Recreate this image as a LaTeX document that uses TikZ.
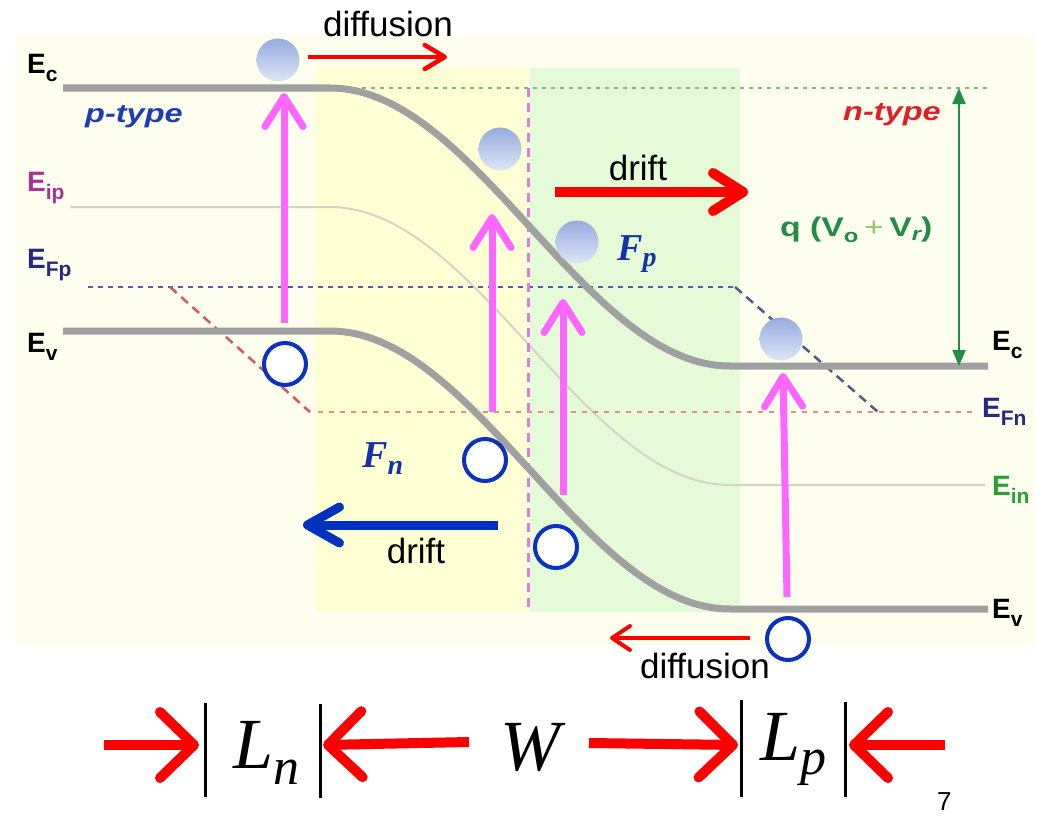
\documentclass[tikz,border=0pt]{standalone}
\usepackage{fontspec}
\setmainfont{Liberation Sans}
\newfontfamily\timesf{Liberation Serif}
\usetikzlibrary{arrows.meta}
\definecolor{bandgray}{RGB}{160,160,160}
\definecolor{eigray}{RGB}{212,212,198}
\definecolor{panel}{RGB}{254,254,238}
\definecolor{ylw}{RGB}{255,255,212}
\definecolor{grn}{RGB}{229,250,214}
\definecolor{mag}{RGB}{255,102,255}
\definecolor{vdash}{RGB}{226,120,226}
\definecolor{gdot}{RGB}{120,190,120}
\definecolor{bdash}{RGB}{90,90,170}
\definecolor{rdot}{RGB}{232,140,130}
\definecolor{rdiag}{RGB}{210,90,95}
\definecolor{bdiag}{RGB}{80,90,135}
\definecolor{qgreen}{RGB}{35,140,70}
\definecolor{plusgreen}{RGB}{150,200,110}
\definecolor{holeblue}{RGB}{10,50,190}
\definecolor{eltop}{RGB}{150,172,222}
\definecolor{elbot}{RGB}{222,230,246}
\definecolor{fblue}{RGB}{20,50,170}
\definecolor{driftblue}{RGB}{0,50,190}
\definecolor{eip}{RGB}{170,50,150}
\definecolor{efp}{RGB}{40,40,130}
\definecolor{ein}{RGB}{40,160,50}
\definecolor{ptype}{RGB}{30,60,180}
\definecolor{ntype}{RGB}{225,30,40}
\definecolor{arrred}{RGB}{255,0,0}
\newcommand\Elab[1]{\fontsize{28}{28}\selectfont\bfseries E\raisebox{-8pt}{\fontsize{21}{21}\selectfont #1}}
\tikzset{
  band/.style={line width=7pt, bandgray},
  lvl/.style={line width=2.5pt},
  magarrow/.style={line width=7pt, mag, -{Straight Barb[length=30pt,width=38pt,round]}},
  elec/.style={circle, minimum size=43pt, inner sep=0pt, top color=eltop, bottom color=elbot, draw=none},
  hole/.style={circle, minimum size=42pt, inner sep=0pt, draw=holeblue, line width=4pt, fill=white},
  txt/.style={inner sep=0pt, anchor=base},
  lbl/.style={inner sep=0pt, anchor=base west},
  bigred/.style={line width=10pt, arrred, -{Straight Barb[length=34pt,width=66pt,round]}},
  bar/.style={line width=3pt, black}
}
\begin{document}
\begin{tikzpicture}[x=1pt,y=-1pt]
\useasboundingbox (0,0) rectangle (1039,816);
\fill[white] (0,0) rectangle (1039,816);
% background regions
\fill[panel] (15,35) rectangle (1035,645);
\fill[ylw] (315,68) rectangle (528,612);
\fill[grn] (530,68) rectangle (740,612);
% intrinsic level
\draw[eigray, line width=2pt] (70,207) -- (330,207) -- plot[domain=330:730,samples=80] (\x,{346-139*cos(0.45*(\x-330))}) -- (985,485);
% dashed levels
\coordinate (g1) at (92,88);   \coordinate (g2) at (990,88);
\coordinate (fp1) at (88,287); \coordinate (fp2) at (735,287); \coordinate (fp3) at (878,412);
\coordinate (fn1) at (318,412); \coordinate (fn2) at (975,412);
\coordinate (rd1) at (170,287); \coordinate (rd2) at (310,412);
\coordinate (jt) at (528,88); \coordinate (jb) at (528,612);
\draw[gdot, lvl, dash pattern=on 4pt off 5pt] (g1) -- (g2);
\draw[bdash, lvl, dash pattern=on 5pt off 5pt] (fp1) -- (fp2);
\draw[bdiag, lvl, dash pattern=on 9pt off 6pt] (fp2) -- (fp3);
\draw[rdot, lvl, dash pattern=on 5pt off 6pt] (fn1) -- (fn2);
\draw[rdiag, lvl, dash pattern=on 9pt off 6pt] (rd1) -- (rd2);
\draw[vdash, line width=3pt, dash pattern=on 9pt off 6pt] (jt) -- (jb);
% bands
\draw[band] (63,88) -- (330,88) -- plot[domain=330:730,samples=80] (\x,{227-139*cos(0.45*(\x-330))}) -- (988,366);
\draw[band] (63,331) -- (330,331) -- plot[domain=330:730,samples=80] (\x,{470-139*cos(0.45*(\x-330))}) -- (988,609);
% potential arrow
\coordinate (qt) at (959,88); \coordinate (qb) at (959,366);
\draw[qgreen, line width=2pt, {Triangle[length=16pt,width=13pt]}-{Triangle[length=16pt,width=13pt]}] (qt) -- (qb);
% magenta excitation arrows
\coordinate (m1a) at (284,323); \coordinate (m1b) at (284,93);
\coordinate (m2a) at (492,412); \coordinate (m2b) at (492,214);
\coordinate (m3a) at (563,495); \coordinate (m3b) at (563,299);
\coordinate (m4a) at (787,597); \coordinate (m4b) at (783,373);
\draw[magarrow] (m1a) -- (m1b);
\draw[magarrow] (m2a) -- (m2b);
\draw[magarrow] (m3a) -- (m3b);
\draw[magarrow] (m4a) -- (m4b);
% carriers
\node[elec] (e1) at (278,60) {};
\node[elec] (e2) at (500,149) {};
\node[elec] (e3) at (577,242) {};
\node[elec] (e4) at (781,339) {};
\node[hole] (h1) at (285,364) {};
\node[hole] (h2) at (485,460) {};
\node[hole] (h3) at (556,547) {};
\node[hole] (h4) at (788,639) {};
% drift / diffusion arrows
\coordinate (d1a) at (308,57); \coordinate (d1b) at (447,57);
\coordinate (r1a) at (555,192); \coordinate (r1b) at (748,192);
\coordinate (b1a) at (498,525); \coordinate (b1b) at (303,525);
\coordinate (d2a) at (750,638); \coordinate (d2b) at (610,638);
\draw[arrred, line width=4.5pt, -{Straight Barb[length=20pt,width=24pt,round]}] (d1a) -- (d1b);
\draw[arrred, line width=10pt, -{Straight Barb[length=30pt,width=38pt,round]}] (r1a) -- (r1b);
\draw[driftblue, line width=9pt, -{Straight Barb[length=32pt,width=36pt,round]}] (b1a) -- (b1b);
\draw[arrred, line width=4pt, -{Straight Barb[length=18pt,width=24pt,round]}] (d2a) -- (d2b);
\node[txt] (tdiff1) at (388,37) {\fontsize{35}{35}\selectfont diffusion};
\node[txt] (tdrift1) at (638,180) {\fontsize{35}{35}\selectfont drift};
\node[txt] (tdrift2) at (416,563) {\fontsize{35}{35}\selectfont drift};
\node[txt] (tdiff2) at (705,678) {\fontsize{35}{35}\selectfont diffusion};
% force labels
\node[lbl, fblue] (fp) at (617,260) {\fontsize{38}{38}\timesf\bfseries\itshape F\raisebox{-6pt}{\fontsize{28}{28}\selectfont p}};
\node[lbl, fblue] (fn) at (362,467) {\fontsize{38}{38}\timesf\bfseries\itshape F\raisebox{-7pt}{\fontsize{28}{28}\selectfont n}};
% level labels
\node[lbl] (lec) at (27,74) {\Elab{c}};
\node[lbl, eip] (leip) at (27,191) {\Elab{ip}};
\node[lbl, efp] (lefp) at (27,268) {\Elab{Fp}};
\node[lbl] (lev) at (27,352) {\Elab{v}};
\node[lbl] (rec) at (992,350) {\Elab{c}};
\node[lbl, efp] (refn) at (982,417) {\Elab{Fn}};
\node[lbl, ein] (rein) at (992,495) {\Elab{in}};
\node[lbl] (rev) at (992,618) {\Elab{v}};
\node[lbl, ptype] (pt) at (85,122) {\scalebox{1.25}[1]{\fontsize{26}{26}\selectfont\bfseries\itshape p-type}};
\node[lbl, ntype] (nt) at (843,120) {\scalebox{1.25}[1]{\fontsize{26}{26}\selectfont\bfseries\itshape n-type}};
\node[lbl, qgreen] (qv) at (780,236) {\scalebox{1.25}[1]{\fontsize{27}{27}\selectfont\bfseries q (V\raisebox{-6pt}{\fontsize{19}{19}\selectfont o}\,\textcolor{plusgreen}{\mdseries +}\,V\raisebox{-4pt}{\fontsize{19}{19}\selectfont\itshape r})}};
% bottom dimension row
\coordinate (a1a) at (104,745); \coordinate (a1b) at (199,745);
\coordinate (a2a) at (469,742); \coordinate (a2b) at (323,745);
\coordinate (a3a) at (589,743); \coordinate (a3b) at (738,745);
\coordinate (a4a) at (945,745); \coordinate (a4b) at (849,745);
\draw[bigred] (a1a) -- (a1b);
\draw[bigred] (a2a) -- (a2b);
\draw[bigred] (a3a) -- (a3b);
\draw[bigred] (a4a) -- (a4b);
\coordinate (k1t) at (205,703); \coordinate (k1b) at (205,797);
\coordinate (k2t) at (320,704); \coordinate (k2b) at (320,798);
\coordinate (k3t) at (741,700); \coordinate (k3b) at (741,797);
\coordinate (k4t) at (845,702); \coordinate (k4b) at (845,797);
\draw[bar] (k1t) -- (k1b);
\draw[bar] (k2t) -- (k2b);
\draw[bar] (k3t) -- (k3b);
\draw[bar] (k4t) -- (k4b);
\node[lbl] (ln) at (233,768) {\fontsize{72}{72}\timesf\itshape L\raisebox{-16pt}{\fontsize{52}{52}\selectfont n}};
\node[lbl] (w) at (500,770) {\fontsize{72}{72}\timesf\itshape W};
\node[lbl] (lp) at (760,760) {\fontsize{72}{72}\timesf\itshape L\raisebox{-14pt}{\fontsize{52}{52}\selectfont p}};
\node[lbl] (pg) at (937,810) {\fontsize{26}{26}\selectfont 7};
\end{tikzpicture}
\end{document}
